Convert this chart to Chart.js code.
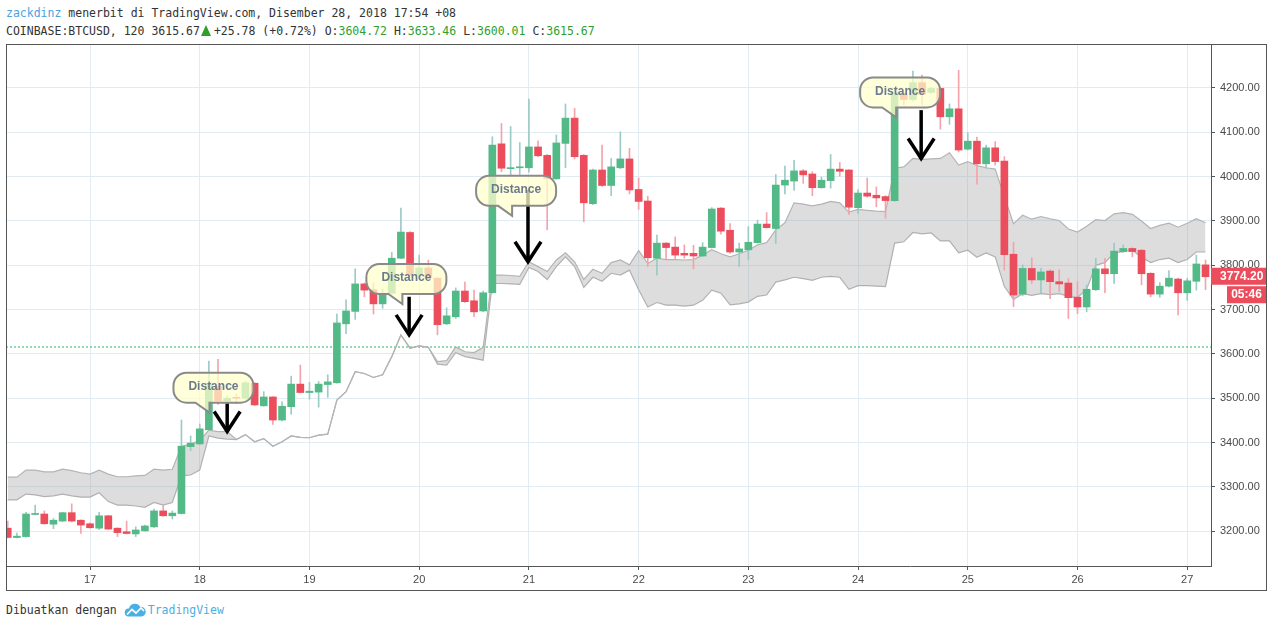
<!DOCTYPE html>
<html>
<head>
<meta charset="utf-8">
<script src="https://cdn.jsdelivr.net/npm/chart.js@4.4.1/dist/chart.umd.min.js"></script>
<style>
  html, body { margin: 0; padding: 0; background: #fff; width: 1274px; height: 628px; overflow: hidden; }
  .mono { position: absolute; font-family: 'DejaVu Sans Mono', monospace; font-size: 11.5px; color: #333; white-space: pre; line-height: 14px; }
  #line1 { left: 6px; top: 6px; }
  #line2 { left: 6px; top: 24px; }
  #footer { left: 6px; top: 603px; }
  .g { color: #2e9f2e; }
  .tri { display: inline-block; width: 0; height: 0; border-left: 5.5px solid transparent; border-right: 5.5px solid transparent; border-bottom: 11px solid #2e9f2e; margin: 0 3px 0 1px; vertical-align: -1px; }
  .tv { color: #4ab0e4; }
  #footer svg { vertical-align: -3px; margin-right: 2px; }
  #chartBox { position: absolute; left: 6px; top: 44px; width: 1261px; height: 547px; }
</style>
</head>
<body>
<div id="line1" class="mono"><span style="color:#4aa3df">zackdinz</span> menerbit di TradingView.com, Disember 28, 2018 17:54 +08</div>
<div id="line2" class="mono">COINBASE:BTCUSD, 120 3615.67<span class="tri"></span>+25.78 (+0.72%) O:<span class="g">3604.72</span> H:<span class="g">3633.46</span> L:<span class="g">3600.01</span> C:<span class="g">3615.67</span></div>
<div id="footer" class="mono">Dibuatkan dengan <svg width="22" height="14" viewBox="0 0 22 14"><path d="M4.5 13.5a4 4 0 0 1 0.5-8a6 6 0 0 1 11.2-1.6a4.6 4.6 0 0 1 1.3 9.6z" fill="#4ab0e4"/><polyline points="3,11.5 8,6.5 12,10 17,5 20,8" fill="none" stroke="#fff" stroke-width="1.7"/></svg><span class="tv">TradingView</span></div>
<div id="chartBox"><canvas id="myChart" width="1261" height="547"></canvas></div>

<script>
// 2h candles, index 0 = first visible bar, day boundaries every 12 bars
const dayLabels = ['17', '18', '19', '20', '21', '22', '23', '24', '25', '26', '27'];
const dayStartIndex = [9, 21, 33, 45, 57, 69, 81, 93, 105, 117, 129];
const priceTicks = [3200, 3300, 3400, 3500, 3600, 3700, 3800, 3900, 4000, 4100, 4200];

const openPrices = [
    3207, 3186, 3188, 3238, 3239, 3216, 3223, 3242, 3225, 3217, 3207, 3235, 3207, 3199, 3194, 3201, 3210, 3246, 3235, 3240,
    3391, 3397, 3429, 3527, 3494, 3502, 3500, 3534, 3483, 3503, 3451, 3481, 3532, 3513, 3514, 3531, 3535, 3668, 3696, 3758,
    3745, 3713, 3737, 3816, 3874, 3778, 3794, 3771, 3668, 3684, 3742, 3720, 3697, 3738, 4074, 4018, 4020, 4020, 4067, 4048,
    3995, 4075, 4132, 4048, 3939, 4015, 3980, 4020, 4040, 3971, 3945, 3816, 3850, 3841, 3827, 3827, 3821, 3840, 3929, 3879,
    3830, 3835, 3851, 3893, 3883, 3981, 3990, 4013, 4006, 3975, 3991, 4017, 4015, 3930, 3963, 3958, 3955, 3946, 4188, 4174,
    4212, 4190, 4199, 4135, 4153, 4062, 4080, 4029, 4065, 4035, 3825, 3735, 3793, 3767, 3787, 3763, 3760, 3728, 3706, 3745,
    3792, 3781, 3831, 3838, 3834, 3782, 3735, 3753, 3769, 3738, 3764, 3801
];
const highPrices = [
    3223, 3196, 3243, 3259, 3246, 3229, 3243, 3262, 3226, 3219, 3243, 3236, 3208, 3223, 3210, 3214, 3250, 3259, 3246, 3451,
    3415, 3442, 3584, 3588, 3505, 3510, 3538, 3535, 3515, 3504, 3492, 3550, 3575, 3536, 3538, 3553, 3690, 3722, 3792, 3760,
    3760, 3746, 3829, 3929, 3876, 3823, 3812, 3773, 3704, 3749, 3762, 3744, 3742, 4090, 4120, 4113, 4077, 4175, 4081, 4050,
    4094, 4164, 4154, 4050, 4017, 4071, 4041, 4101, 4064, 3997, 3956, 3868, 3851, 3864, 3846, 3845, 3851, 3930, 3930, 3894,
    3850, 3887, 3902, 3919, 4005, 4024, 4037, 4016, 4011, 3999, 4050, 4032, 4016, 3971, 3997, 3977, 3957, 4195, 4190, 4238,
    4229, 4201, 4200, 4164, 4240, 4099, 4089, 4071, 4079, 4045, 3852, 3801, 3817, 3793, 3790, 3790, 3770, 3763, 3756, 3816,
    3816, 3850, 3846, 3840, 3836, 3783, 3761, 3788, 3771, 3771, 3823, 3812
];
const lowPrices = [
    3185, 3185, 3187, 3237, 3216, 3206, 3222, 3221, 3195, 3207, 3204, 3204, 3188, 3194, 3188, 3200, 3209, 3234, 3228, 3239,
    3382, 3396, 3428, 3486, 3490, 3488, 3498, 3484, 3482, 3441, 3449, 3464, 3512, 3498, 3480, 3502, 3534, 3646, 3678, 3729,
    3690, 3703, 3736, 3815, 3776, 3776, 3770, 3643, 3666, 3680, 3716, 3684, 3695, 3737, 4011, 4000, 4005, 4010, 4045, 3880,
    3994, 4020, 4040, 3898, 3937, 3978, 3957, 4018, 3961, 3926, 3797, 3778, 3812, 3815, 3816, 3792, 3820, 3839, 3870, 3827,
    3797, 3812, 3850, 3884, 3849, 3961, 3969, 3985, 3957, 3974, 3974, 4001, 3915, 3917, 3954, 3932, 3906, 3944, 4162, 4170,
    4163, 4188, 4107, 4118, 4056, 4060, 3983, 4019, 4026, 3789, 3707, 3731, 3759, 3738, 3725, 3741, 3680, 3691, 3695, 3743,
    3738, 3759, 3829, 3819, 3756, 3729, 3728, 3751, 3688, 3721, 3744, 3745
];
const closePrices = [
    3186, 3189, 3239, 3240, 3217, 3225, 3242, 3223, 3214, 3208, 3235, 3205, 3197, 3195, 3203, 3212, 3246, 3235, 3241, 3392,
    3399, 3431, 3534, 3494, 3500, 3500, 3535, 3485, 3503, 3451, 3482, 3532, 3513, 3516, 3532, 3537, 3670, 3697, 3758, 3744,
    3713, 3737, 3816, 3875, 3778, 3794, 3772, 3666, 3686, 3742, 3718, 3695, 3738, 4071, 4019, 4020, 4022, 4067, 4047, 3996,
    4076, 4132, 4045, 3941, 4015, 3980, 4022, 4040, 3970, 3944, 3817, 3850, 3840, 3823, 3823, 3821, 3841, 3927, 3877, 3830,
    3837, 3852, 3893, 3885, 3981, 3992, 4013, 4004, 3975, 3992, 4017, 4012, 3931, 3963, 3956, 3952, 3946, 4189, 4174, 4212,
    4186, 4199, 4135, 4153, 4060, 4080, 4029, 4065, 4034, 3824, 3733, 3793, 3767, 3785, 3763, 3758, 3727, 3706, 3746, 3792,
    3781, 3832, 3838, 3831, 3781, 3735, 3753, 3771, 3738, 3765, 3803, 3774.2
];
// Ichimoku cloud edges
const cloudUpper = [
    3322, 3322, 3338, 3338, 3334, 3334, 3340, 3337, 3332, 3329, 3338, 3329, 3323, 3323, 3325, 3326, 3340, 3338, 3340, 3392,
    3396, 3405, 3428, 3425, 3425, 3407, 3418, 3402, 3409, 3392, 3402, 3415, 3412, 3411, 3417, 3419, 3496, 3515, 3560, 3556,
    3547, 3553, 3594, 3643, 3613, 3618, 3615, 3583, 3585, 3616, 3605, 3603, 3615, 3778, 3778, 3777, 3775, 3808, 3797, 3786,
    3812, 3828, 3808, 3768, 3791, 3782, 3806, 3812, 3801, 3833, 3804, 3816, 3813, 3813, 3812, 3813, 3823, 3835, 3826, 3819,
    3826, 3834, 3846, 3851, 3880, 3896, 3941, 3938, 3934, 3938, 3944, 3941, 3920, 3926, 3924, 3922, 3921, 4019, 4022, 4041,
    4039, 4040, 4041, 4054, 4026, 4034, 4025, 4020, 4017, 3955, 3894, 3913, 3904, 3910, 3905, 3901, 3882, 3875, 3888, 3903,
    3901, 3916, 3919, 3915, 3900, 3883, 3890, 3895, 3886, 3895, 3905, 3896
];
const cloudLower = [
    3271, 3271, 3284, 3282, 3278, 3280, 3284, 3280, 3277, 3277, 3287, 3267, 3259, 3259, 3257, 3254, 3265, 3259, 3265, 3325,
    3327, 3338, 3415, 3410, 3408, 3407, 3418, 3402, 3409, 3392, 3402, 3415, 3412, 3411, 3417, 3419, 3496, 3515, 3560, 3556,
    3547, 3553, 3594, 3643, 3613, 3618, 3615, 3577, 3575, 3603, 3594, 3590, 3586, 3759, 3759, 3758, 3757, 3795, 3786, 3768,
    3797, 3819, 3797, 3750, 3773, 3764, 3782, 3778, 3789, 3745, 3706, 3716, 3710, 3710, 3708, 3710, 3721, 3744, 3737, 3711,
    3713, 3717, 3730, 3733, 3762, 3767, 3773, 3770, 3766, 3773, 3775, 3773, 3746, 3754, 3754, 3753, 3752, 3850, 3853, 3874,
    3871, 3873, 3855, 3855, 3828, 3834, 3818, 3828, 3819, 3752, 3723, 3736, 3732, 3736, 3734, 3736, 3730, 3727, 3746, 3800,
    3806, 3828, 3831, 3834, 3818, 3806, 3813, 3816, 3806, 3813, 3830, 3830
];

const priceLine = 3615.67;
const lastPrice = 3774.20;
const countdown = '05:46';

// "Distance" notes: bubble centre and arrow (bar index, price top, price tip)
const callouts = [
    { bubble: [22.5, 3524], arrow: [24.0, 3489, 3425] },
    { bubble: [43.6, 3769], arrow: [43.9, 3729, 3643] },
    { bubble: [55.6, 3968], arrow: [56.9, 3970, 3808] },
    { bubble: [97.6, 4190], arrow: [99.9, 4150, 4041] }
];

const xMin = -0.19;
const xMax = 131.6;

const idx = openPrices.map((_, i) => i);
const isUp = idx.map(i => closePrices[i] >= openPrices[i]);

const overlayPlugin = {
    id: 'overlay',
    afterDatasetsDraw(chart) {
        const { ctx, scales } = chart;
        const xs = scales.x, ys = scales.y;
        ctx.save();
        // arrows
        ctx.strokeStyle = '#000';
        ctx.lineWidth = 3.5;
        ctx.lineJoin = 'miter';
        callouts.forEach(c => {
            const x = xs.getPixelForValue(c.arrow[0]);
            const y1 = ys.getPixelForValue(c.arrow[1]);
            const y2 = ys.getPixelForValue(c.arrow[2]);
            ctx.beginPath();
            ctx.moveTo(x, y1);
            ctx.lineTo(x, y2 - 2);
            ctx.stroke();
            ctx.beginPath();
            ctx.moveTo(x - 13, y2 - 20);
            ctx.lineTo(x, y2);
            ctx.lineTo(x + 13, y2 - 20);
            ctx.stroke();
        });
        // bubbles
        callouts.forEach(c => {
            const cx = xs.getPixelForValue(c.bubble[0]);
            const cy = ys.getPixelForValue(c.bubble[1]);
            const w = 80, h = 30, r = 13;
            const l = cx - w / 2, t = cy - h / 2, b = cy + h / 2, rt = cx + w / 2;
            ctx.beginPath();
            ctx.moveTo(l + r, t);
            ctx.lineTo(rt - r, t);
            ctx.arcTo(rt, t, rt, t + r, r);
            ctx.lineTo(rt, b - r);
            ctx.arcTo(rt, b, rt - r, b, r);
            ctx.lineTo(cx - 4, b);
            ctx.lineTo(cx - 4, b + 10);
            ctx.lineTo(cx - 18, b);
            ctx.lineTo(l + r, b);
            ctx.arcTo(l, b, l, b - r, r);
            ctx.lineTo(l, t + r);
            ctx.arcTo(l, t, l + r, t, r);
            ctx.closePath();
            ctx.fillStyle = 'rgba(255, 255, 204, 0.75)';
            ctx.fill();
            ctx.strokeStyle = '#8a8a8a';
            ctx.lineWidth = 2;
            ctx.stroke();
            ctx.fillStyle = '#6b7a8c';
            ctx.font = 'bold 12px "Liberation Sans", Arial, sans-serif';
            ctx.textAlign = 'center';
            ctx.textBaseline = 'middle';
            ctx.fillText('Distance', cx, cy - 1);
        });
        ctx.restore();
    },
    afterDraw(chart) {
        const { ctx, chartArea, scales, width, height } = chart;
        const y = scales.y.getPixelForValue(lastPrice);
        ctx.save();
        ctx.fillStyle = '#eb4d5c';
        ctx.fillRect(chartArea.right, y - 9, width - chartArea.right, 17);
        ctx.fillRect(chartArea.right + 16, y + 9.5, width - chartArea.right - 17, 17);
        ctx.fillStyle = '#fff';
        ctx.font = 'bold 12px "Liberation Sans", Arial, sans-serif';
        ctx.textBaseline = 'middle';
        ctx.textAlign = 'left';
        ctx.fillText(lastPrice.toFixed(2), chartArea.right + 9, y);
        ctx.textAlign = 'center';
        ctx.fillText(countdown, chartArea.right + 16 + (width - chartArea.right - 17) / 2, y + 18);
        // outer frame
        ctx.strokeStyle = '#555';
        ctx.lineWidth = 1;
        ctx.strokeRect(0.5, 0.5, width - 1, height - 1);
        ctx.restore();
    }
};

const axisFont = { family: '"Liberation Sans", Arial, sans-serif', size: 11 };

const chart = new Chart(document.getElementById('myChart'), {
    type: 'bar',
    data: {
        datasets: [
            {
                type: 'line',
                label: 'Senkou A',
                data: idx.map(i => ({ x: i, y: cloudUpper[i] })),
                borderColor: '#b4b4b4',
                borderWidth: 1.2,
                pointRadius: 0,
                tension: 0,
                fill: '+1',
                backgroundColor: 'rgba(165, 165, 165, 0.38)',
                order: 3
            },
            {
                type: 'line',
                label: 'Senkou B',
                data: idx.map(i => ({ x: i, y: cloudLower[i] })),
                borderColor: '#b4b4b4',
                borderWidth: 1.2,
                pointRadius: 0,
                tension: 0,
                fill: false,
                order: 3
            },
            {
                type: 'line',
                label: 'Price line',
                data: [{ x: xMin, y: priceLine }, { x: xMax, y: priceLine }],
                borderColor: '#22b865',
                borderWidth: 1,
                borderDash: [2, 2],
                pointRadius: 0,
                fill: false,
                order: 4
            },
            {
                label: 'Wick',
                data: idx.map(i => ({ x: i, y: [lowPrices[i], highPrices[i]] })),
                backgroundColor: isUp.map(u => u ? '#9ccac6' : '#f4a3ab'),
                barThickness: 1,
                grouped: false,
                order: 2
            },
            {
                label: 'Body',
                data: idx.map(i => ({ x: i, y: [openPrices[i], closePrices[i]] })),
                backgroundColor: isUp.map(u => u ? '#53b987' : '#eb4d5c'),
                barThickness: 7,
                minBarLength: 1,
                grouped: false,
                order: 1
            }
        ]
    },
    options: {
        responsive: false,
        animation: false,
        devicePixelRatio: 1,
        layout: { padding: 0 },
        plugins: {
            legend: { display: false },
            tooltip: { enabled: false }
        },
        scales: {
            x: {
                type: 'linear',
                min: xMin,
                max: xMax,
                offset: false,
                afterBuildTicks: s => { s.ticks = dayStartIndex.map(v => ({ value: v })); },
                afterFit: s => { s.height = 25; s.paddingLeft = 0; s.paddingRight = 0; },
                ticks: {
                    autoSkip: false,
                    maxRotation: 0,
                    padding: 3,
                    color: '#4a4a4a',
                    font: axisFont,
                    callback: v => dayLabels[dayStartIndex.indexOf(v)]
                },
                grid: { offset: false, color: '#e1ecf2', tickColor: '#555', tickLength: 4 },
                border: { color: '#555' }
            },
            y: {
                position: 'right',
                min: 3121.7,
                max: 4299.2,
                afterBuildTicks: s => { s.ticks = priceTicks.map(v => ({ value: v })); },
                afterFit: s => { s.width = 56; s.paddingTop = 0; s.paddingBottom = 0; },
                ticks: {
                    autoSkip: false,
                    padding: 5,
                    color: '#4a4a4a',
                    font: axisFont,
                    callback: v => v.toFixed(2)
                },
                grid: { color: '#e1ecf2', tickColor: '#555', tickLength: 4 },
                border: { color: '#555' }
            }
        }
    },
    plugins: [overlayPlugin]
});
</script>
</body>
</html>
